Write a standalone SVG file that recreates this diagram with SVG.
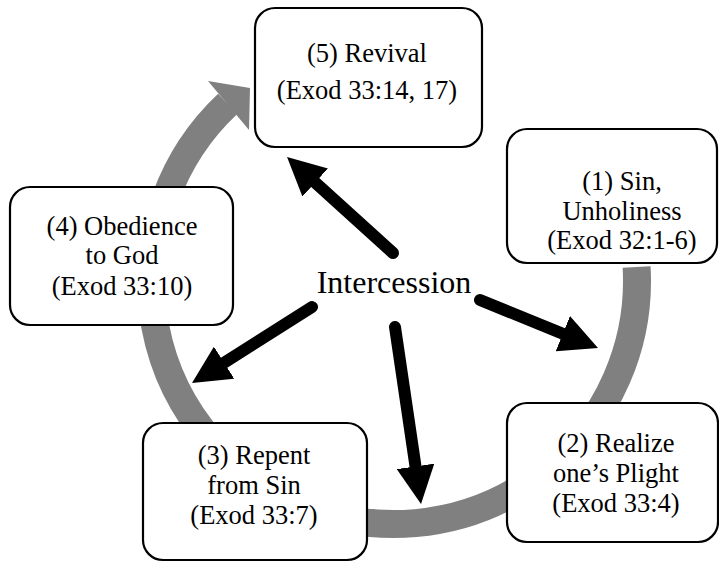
<svg xmlns="http://www.w3.org/2000/svg" width="719" height="562" viewBox="0 0 719 562">
<defs>
<style>
.box{fill:#fff;stroke:#000;stroke-width:2.2}
.ring{fill:none;stroke:#808080;stroke-width:28}
.ar{stroke:#000;stroke-width:12;stroke-linecap:round;fill:none;marker-end:url(#head)}
</style>
<marker id="head" markerUnits="userSpaceOnUse" markerWidth="38" markerHeight="38" viewBox="0 0 38 38" refX="0" refY="19" orient="auto">
<path d="M0,0 L38,19 L0,38 Z" fill="#000"/>
</marker>
</defs>
<g id="cycle">
<path class="ring" d="M636.6,267 A243,243 0 1 1 227.7,103.9"/>
<polygon points="208,81 250,88 249,130" fill="#808080"/>
</g>
<g fill="#000" text-anchor="middle" font-family="'Liberation Serif', 'Times New Roman', serif" font-size="26.5px">
<g id="node5">
<rect class="box" x="255" y="8" width="227" height="139" rx="20"/>
<text x="367" y="62">(5) Revival</text>
<text x="367" y="99">(Exod 33:14, 17)</text>
</g>
<g id="node1">
<rect class="box" x="507" y="129" width="210" height="134" rx="20"/>
<text x="622" y="190">(1) Sin,</text>
<text x="622" y="220">Unholiness</text>
<text x="622" y="249">(Exod 32:1-6)</text>
</g>
<g id="node2">
<rect class="box" x="507" y="403" width="211" height="139" rx="20"/>
<text x="616" y="452">(2) Realize</text>
<text x="616" y="482">one’s Plight</text>
<text x="616" y="512">(Exod 33:4)</text>
</g>
<g id="node3">
<rect class="box" x="143" y="423" width="224" height="137" rx="20"/>
<text x="254" y="464">(3) Repent</text>
<text x="254" y="494">from Sin</text>
<text x="254" y="524">(Exod 33:7)</text>
</g>
<g id="node4">
<rect class="box" x="10" y="187" width="223" height="138" rx="20"/>
<text x="122" y="235">(4) Obedience</text>
<text x="122" y="264">to God</text>
<text x="122" y="295">(Exod 33:10)</text>
</g>
<g id="intercession">
<text x="394" y="293" font-size="32px">Intercession</text>
</g>
</g>
<g id="connectors">
<line class="ar" x1="393" y1="253" x2="315.2" y2="182.5"/>
<line class="ar" x1="480" y1="300" x2="562.8" y2="333.7"/>
<line class="ar" x1="395" y1="327" x2="415.5" y2="466.4"/>
<line class="ar" x1="312" y1="307" x2="224.1" y2="362.7"/>
</g>
</svg>
